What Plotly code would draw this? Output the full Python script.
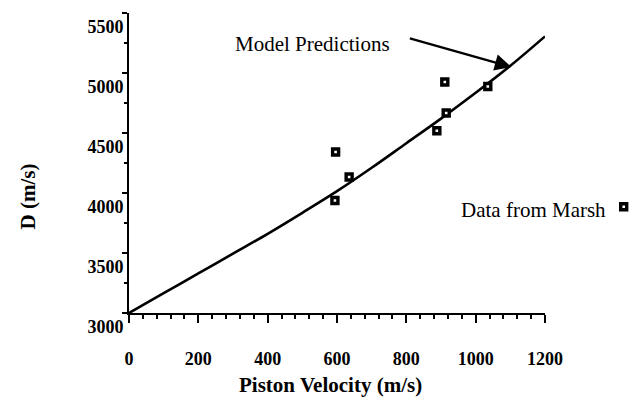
import plotly.graph_objects as go

# Model prediction curve
model_v = [0, 100, 200, 300, 400, 500, 600, 700, 800, 900, 1000, 1100, 1200]
model_d = [3000, 3165, 3330, 3495, 3660, 3835, 4015, 4210, 4415, 4620, 4835, 5060, 5305]

# Data from Marsh
marsh_v = [594, 596, 635, 888, 911, 915, 1035]
marsh_d = [3938, 4342, 4133, 4519, 4925, 4667, 4888]

x_ticks = [0, 200, 400, 600, 800, 1000, 1200]
y_ticks = [3000, 3500, 4000, 4500, 5000, 5500]

FONT = "Liberation Serif"

# pixel helpers for text placement (plot area: x 129..545, y 13..313)
def px_x(p):
    return (p - 129.3) / (545.3 - 129.3)

def px_y(p):
    return (313.3 - p) / (313.3 - 13.3)

fig = go.Figure()
fig.add_trace(go.Scatter(x=model_v, y=model_d, mode="lines",
                         line=dict(color="black", width=2.6, shape="spline", smoothing=1.0),
                         showlegend=False, cliponaxis=False))
fig.add_trace(go.Scatter(x=marsh_v, y=marsh_d, mode="markers",
                         marker=dict(symbol="square", size=6, color="white",
                                     line=dict(color="black", width=3.4)),
                         showlegend=False, cliponaxis=False))

fig.update_layout(
    width=632, height=402,
    margin=dict(l=129, r=87, t=13, b=89, autoexpand=False),
    paper_bgcolor="white", plot_bgcolor="white",
    font=dict(family=FONT, color="black"),
    xaxis=dict(range=[0, 1200], tickvals=x_ticks, ticktext=[str(v) for v in x_ticks],
               automargin=False,
               showgrid=False, zeroline=False, showline=True, linecolor="black", linewidth=2,
               ticks="outside", ticklen=8, tickwidth=2, tickcolor="black",
               minor=dict(dtick=40, ticks="outside", ticklen=4, tickwidth=2, tickcolor="black"),
               ticklabelstandoff=20,
               tickfont=dict(family=FONT, size=18, color="black", weight="bold")),
    yaxis=dict(range=[3000, 5500], tickvals=y_ticks, ticktext=[str(v) for v in y_ticks],
               automargin=False,
               showgrid=False, zeroline=False, showline=True, linecolor="black", linewidth=2,
               ticks="outside", ticklen=5, tickwidth=2, tickcolor="black",
               ticklabelposition="outside bottom",
               minor=dict(dtick=250, ticks="outside", ticklen=3, tickwidth=2, tickcolor="black"),
               tickfont=dict(family=FONT, size=18, color="black", weight="bold")),
    showlegend=False,
)

# axis titles
fig.add_annotation(xref="paper", yref="paper", x=px_x(331), y=px_y(385),
                   text="<b>Piston Velocity (m/s)</b>", showarrow=False,
                   font=dict(family=FONT, size=21, color="black"),
                   xanchor="center", yanchor="middle")
fig.add_annotation(xref="paper", yref="paper", x=px_x(28), y=px_y(197),
                   text="<b>D (m/s)</b>", showarrow=False, textangle=-90,
                   font=dict(family=FONT, size=21, color="black"),
                   xanchor="center", yanchor="middle")

# arrow
fig.add_annotation(x=1103, y=5050, xref="x", yref="y", ax=-103, ay=-29,
                   text="", showarrow=True, arrowhead=2, arrowsize=1.5,
                   arrowwidth=2.2, arrowcolor="black")
fig.add_annotation(xref="paper", yref="paper", x=px_x(233), y=px_y(44),
                   text="Model Predictions", showarrow=False,
                   font=dict(family=FONT, size=21, color="black"),
                   xanchor="left", yanchor="middle")
fig.add_annotation(xref="paper", yref="paper", x=px_x(608), y=px_y(210),
                   text="Data from Marsh", showarrow=False,
                   font=dict(family=FONT, size=21, color="black"),
                   xanchor="right", yanchor="middle")
# legend symbol
fig.add_shape(type="rect", xref="paper", yref="paper",
              x0=px_x(621), x1=px_x(627), y0=px_y(210), y1=px_y(204),
              line=dict(color="black", width=3.4), fillcolor="white")

fig.write_html("out.html")
